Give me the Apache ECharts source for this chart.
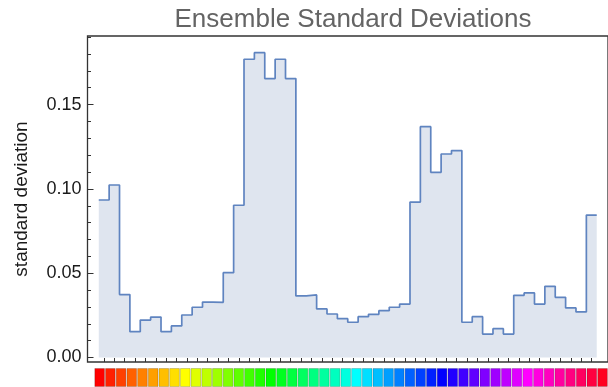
<!DOCTYPE html>
<html>
<head>
<meta charset="utf-8">
<script src="https://cdn.jsdelivr.net/npm/echarts@6/dist/echarts.min.js"></script>
<style>
html,body{margin:0;padding:0;background:#fff;}
#chart{width:608px;height:387px;}
</style>
</head>
<body>
<div id="chart"></div>
<script>
// Ensemble standard deviation per bin (48 bins)
const stdDev = [
  0.0934, 0.1023, 0.0373, 0.0153, 0.0222, 0.0240, 0.0153, 0.0187, 0.0252, 0.0298,
  0.0329, 0.0327, 0.0503, 0.0903, 0.1769, 0.1808, 0.1654, 0.1769, 0.1654, 0.0365,
  0.0371, 0.0288, 0.0258, 0.0230, 0.0209, 0.0242, 0.0256, 0.0278, 0.0298, 0.0317,
  0.0922, 0.1369, 0.1098, 0.1207, 0.1227, 0.0209, 0.0242, 0.0139, 0.0171, 0.0139,
  0.0369, 0.0383, 0.0317, 0.0422, 0.0357, 0.0294, 0.0270, 0.0845
];
const yTickLabels = [0, 0.05, 0.10, 0.15];
const yMinorTicks = [0.01,0.02,0.03,0.04,0.06,0.07,0.08,0.09,0.11,0.12,0.13,0.14,0.16,0.17,0.18,0.19];
// Hue (degrees) of each colour cell under the x axis
const cellHues = [
  0, 7.5, 15, 22.5, 30, 37.5, 45, 52.5, 60, 67.5, 75, 82.5,
  90, 97.5, 105, 112.5, 120, 127.5, 135, 142.5, 150, 157.5, 165, 172.5,
  180, 187.5, 195, 202.5, 210, 217.5, 225, 232.5, 240, 247.5, 255, 262.5,
  270, 277.5, 285, 292.5, 300, 307.5, 315, 322.5, 330, 337.5, 345, 352.5
];
const titleText = 'Ensemble Standard Deviations';
const yName = 'standard deviation';

const stepData = stdDev.map((v, i) => [i, v]);
stepData.push([stdDev.length, stdDev[stdDev.length - 1]]);
const binCenters = stdDev.map((_, i) => i + 0.5);

const FONT = 'Liberation Sans, Arial, sans-serif';
const YMIN = -0.00267, YMAX = 0.19068;
const XMIN = -1.086, XMAX = 49.086;
const NOLINE = {show: false, onZero: false};
function tickAxis(values, len) {
  return {
    type: 'value', gridIndex: 0, min: YMIN, max: YMAX, position: 'left', offset: 0,
    axisLine: NOLINE, splitLine: {show: false}, axisLabel: {show: false},
    axisTick: {show: true, inside: true, length: len, customValues: values, lineStyle: {color: '#333', width: 1}}
  };
}
const chart = echarts.init(document.getElementById('chart'), null, {renderer: 'canvas'});
chart.setOption({
  animation: false,
  backgroundColor: '#fff',
  graphic: [{
    type: 'text', x: 353, y: 20,
    style: {text: titleText, fontFamily: FONT, fontSize: 26, fill: '#646464', align: 'center', verticalAlign: 'middle'}
  }],
  grid: [
    {left: 87.5, top: 36, width: 531.3, height: 326, show: true, borderColor: '#333', borderWidth: 1.3, backgroundColor: 'transparent'},
    {left: 94.3, top: 368, width: 513.6, height: 19}
  ],
  xAxis: [
    {
      type: 'value', gridIndex: 0, min: XMIN, max: XMAX, position: 'bottom', offset: 0,
      axisLine: NOLINE, splitLine: {show: false}, axisLabel: {show: false},
      axisTick: {show: true, inside: true, length: 4, customValues: binCenters, lineStyle: {color: '#333', width: 1}}
    },
    {
      type: 'category', gridIndex: 1, data: cellHues.map(String), show: false, axisLine: NOLINE
    }
  ],
  yAxis: [
    {
      type: 'value', gridIndex: 0, min: YMIN, max: YMAX, position: 'left', offset: 0,
      axisLine: NOLINE,
      splitLine: {show: false},
      axisTick: {show: true, inside: true, length: 6, customValues: yTickLabels, lineStyle: {color: '#333', width: 1}},
      axisLabel: {customValues: yTickLabels, formatter: v => v.toFixed(2), fontFamily: FONT, fontSize: 18, color: '#1a1a1a', margin: 6},
      name: yName, nameLocation: 'middle', nameGap: 56, nameRotate: 90,
      nameTextStyle: {fontFamily: FONT, fontSize: 19, color: '#1a1a1a'}
    },
    tickAxis(yMinorTicks, 3.5),
    {
      type: 'value', gridIndex: 1, min: 0, max: 1, show: false, axisLine: NOLINE
    }
  ],
  series: [
    {
      type: 'line', xAxisIndex: 0, yAxisIndex: 0, step: 'end', data: stepData,
      showSymbol: false, symbol: 'none',
      lineStyle: {color: '#5f84c0', width: 1.7},
      areaStyle: {color: '#dfe5ef', opacity: 1},
      silent: true
    },
    {
      type: 'bar', xAxisIndex: 1, yAxisIndex: 2, barWidth: '100%', barCategoryGap: 0,
      data: cellHues.map(h => ({value: 1, itemStyle: {color: 'hsl(' + h + ',100%,50%)'}})),
      itemStyle: {borderColor: 'rgba(0,0,0,0.18)', borderWidth: 1},
      silent: true
    }
  ]
});
</script>
</body>
</html>
